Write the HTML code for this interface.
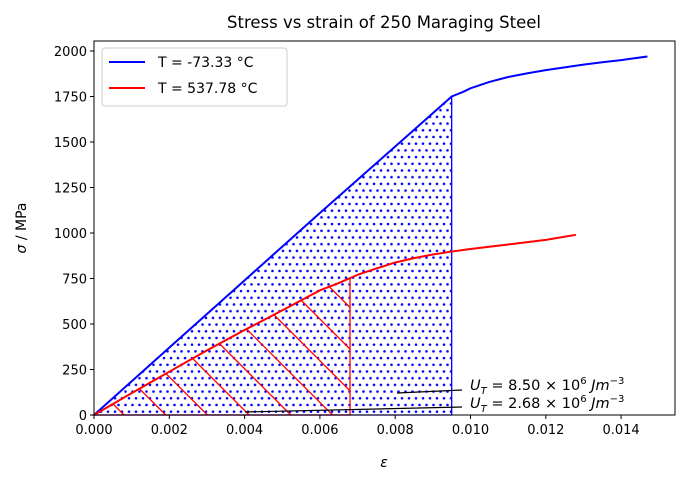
<!DOCTYPE html>
<html><head><meta charset="utf-8"><style>
body{margin:0;background:#fff;}
svg{display:block;font-family:"DejaVu Sans","Liberation Sans",sans-serif;}
</style></head><body>
<svg id="chart" width="687" height="484" viewBox="0 0 687 484">
<defs>
<pattern id="dots" patternUnits="userSpaceOnUse" width="7" height="13.4" x="94" y="415">
<circle cx="3.5" cy="3.35" r="1.3" fill="#0000ff"/>
<circle cx="0" cy="10.05" r="1.3" fill="#0000ff"/>
<circle cx="7" cy="10.05" r="1.3" fill="#0000ff"/>
</pattern>
<clipPath id="redclip"><polygon id="redclipPoly" points=""/></clipPath>
</defs>
<text x="384" y="28" text-anchor="middle" font-size="16.5">Stress vs strain of 250 Maraging Steel</text>
<g id="plot"></g>
</svg>
<script>
const blueStrain=[0,0.002,0.004,0.006,0.008,0.0095,0.0098,0.010,0.0105,0.011,0.0115,0.012,0.0125,0.013,0.0135,0.014,0.0147];
const blueStress=[0,370,740,1110,1475,1750,1775,1795,1830,1857,1877,1895,1910,1925,1938,1950,1970];
const redStrain=[0,0.001,0.002,0.003,0.004,0.005,0.006,0.0065,0.0068,0.007,0.0075,0.008,0.0085,0.009,0.0095,0.010,0.011,0.012,0.0128];
const redStress=[0,120,238,355,467,575,685,725,752,770,805,838,862,882,898,912,937,962,990];
const blueLimit=0.0095, redLimit=0.0068;
const xTicks=[0,0.002,0.004,0.006,0.008,0.010,0.012,0.014];
const xTickLabels=["0.000","0.002","0.004","0.006","0.008","0.010","0.012","0.014"];
const yTicks=[0,250,500,750,1000,1250,1500,1750,2000];
const L=94,R=675,T=41,B=415;
const X=v=>L+v/0.002*75.3;
const Y=v=>B-v*0.182;
const NS="http://www.w3.org/2000/svg";
const g=document.getElementById('plot');
function mk(tag,attrs,parent){const e=document.createElementNS(NS,tag);for(const k in attrs)e.setAttribute(k,attrs[k]);(parent||g).appendChild(e);return e;}
function interp(xs,ys,x){for(let i=1;i<xs.length;i++){if(x<=xs[i]){const t=(x-xs[i-1])/(xs[i]-xs[i-1]);return ys[i-1]+t*(ys[i]-ys[i-1]);}}return ys[ys.length-1];}
function areaPts(xs,ys,lim){const p=[];for(let i=0;i<xs.length&&xs[i]<lim;i++)p.push([X(xs[i]),Y(ys[i])]);p.push([X(lim),Y(interp(xs,ys,lim))]);p.push([X(lim),Y(0)]);return p.map(a=>a.join(',')).join(' ');}
let e=mk('polygon',{points:areaPts(blueStrain,blueStress,blueLimit),fill:'url(#dots)',stroke:'#0000ff','stroke-width':1.3});


const rp=areaPts(redStrain,redStress,redLimit);
document.getElementById('redclipPoly').setAttribute('points',rp);
const hg=mk('g',{'clip-path':'url(#redclip)'});


for(let k=-1;k<10;k++){const bx=124+41.7*k;mk('line',{x1:bx,y1:B,x2:bx-420,y2:B-420,stroke:'#ff0000','stroke-width':1.3},hg);}
e=mk('polygon',{points:rp,fill:'none',stroke:'#ff0000','stroke-width':1.3});


function curve(xs,ys,col,name){const l=mk('polyline',{points:xs.map((x,i)=>X(x)+','+Y(ys[i])).join(' '),fill:'none',stroke:col,'stroke-width':2,'stroke-linejoin':'round'});}
curve(blueStrain,blueStress,'#0000ff','blue-curve');
curve(redStrain,redStress,'#ff0000','red-curve');
e=mk('line',{x1:397,y1:393,x2:462,y2:390,stroke:'#000','stroke-width':1.2});


e=mk('line',{x1:245,y1:412,x2:462,y2:407,stroke:'#000','stroke-width':1.2});


function ann(y,val,name){const t=mk('text',{x:470,y:y,'font-size':14.5});
t.innerHTML='<tspan font-style="italic">U</tspan><tspan font-size="10" dy="4" font-style="italic">T</tspan><tspan dy="-4"> = '+val+' × 10</tspan><tspan font-size="10" dy="-6">6</tspan><tspan dy="6" font-style="italic">  Jm</tspan><tspan font-size="10" dy="-6">−3</tspan>';}
ann(390,'8.50','annotation-blue');
ann(408,'2.68','annotation-red');
e=mk('rect',{x:L,y:T,width:R-L,height:B-T,fill:'none',stroke:'#000','stroke-width':1});


xTicks.forEach((v,i)=>{mk('line',{x1:X(v),y1:B,x2:X(v),y2:B+4,stroke:'#000'});const t=mk('text',{x:X(v),y:B+19,'font-size':13,'text-anchor':'middle'});t.textContent=xTickLabels[i];});
yTicks.forEach(v=>{mk('line',{x1:L-4,y1:Y(v),x2:L,y2:Y(v),stroke:'#000'});const t=mk('text',{x:L-7,y:Y(v)+5,'font-size':13,'text-anchor':'end'});t.textContent=v;});
e=mk('text',{x:384,y:467,'font-size':14,'text-anchor':'middle','font-style':'italic'});e.textContent='ε';


e=mk('text',{x:26,y:228,'font-size':14,'text-anchor':'middle',transform:'rotate(-90 26 228)'});e.innerHTML='<tspan font-style="italic">σ</tspan> / MPa';


const lg=mk('g',{});


mk('rect',{x:102,y:48,width:185,height:58,rx:3,fill:'#fff','fill-opacity':0.8,stroke:'#ccc'},lg);
[['#0000ff','T = -73.33 °C',67],['#ff0000','T = 537.78 °C',93]].forEach(([c,s,y])=>{mk('line',{x1:109,y1:y-5,x2:145,y2:y-5,stroke:c,'stroke-width':2},lg);const t=mk('text',{x:158,y:y,'font-size':14},lg);t.textContent=s;});
</script>
</body></html>
